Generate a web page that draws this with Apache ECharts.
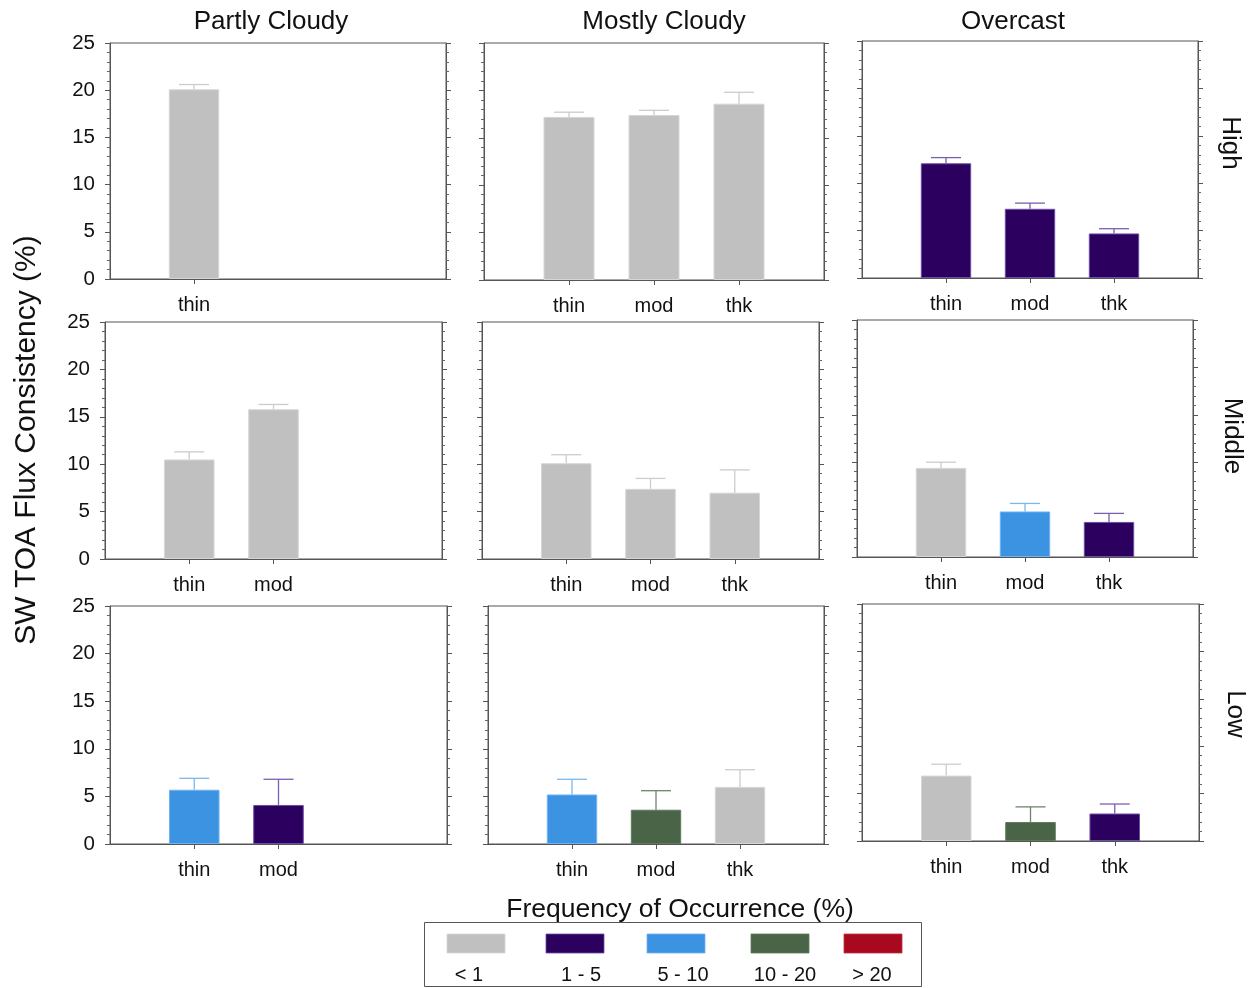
<!DOCTYPE html>
<html>
<head>
<meta charset="utf-8">
<script src="https://cdn.jsdelivr.net/npm/echarts@6/dist/echarts.min.js"></script>
<style>
html,body{margin:0;padding:0;background:#fff;}
#chart{width:1254px;height:988px;}
</style>
</head>
<body>
<div id="chart"></div>
<script>
// ---- data ----
const colNames = ['Partly Cloudy', 'Mostly Cloudy', 'Overcast'];
const rowNames = ['High', 'Middle', 'Low'];
const thicknessCats = ['thin', 'mod', 'thk'];
const yTicks = [0, 5, 10, 15, 20, 25];
const freqLabels = ['< 1', '1 - 5', '5 - 10', '10 - 20', '> 20'];
const freqColors = ['#c0c0c0', '#2c005e', '#3b93e2', '#4a6448', '#a8091f'];
const errColors = ['#cccccc', '#7a5fb0', '#7ab8f2', '#6a8767', '#cc4050'];
const edgeColors = ['#d6d6d6', '#6b4fa6', '#6fb2f5', '#5f7a5d', '#c0303f'];

// values per row: [PartlyCloudy, MostlyCloudy, Overcast] x [thin, mod, thk]
const highVals = [[20.1, null, null], [17.2, 17.4, 18.6], [12.1, 7.3, 4.7]];
const highErr  = [[0.5, null, null], [0.5, 0.5, 1.2], [0.6, 0.6, 0.5]];
const highFreq = [[0, null, null], [0, 0, 0], [1, 1, 1]];

const midVals = [[10.5, 15.8, null], [10.1, 7.4, 7.0], [9.4, 4.8, 3.7]];
const midErr  = [[0.8, 0.5, null], [0.9, 1.1, 2.4], [0.6, 0.85, 0.9]];
const midFreq = [[0, 0, null], [0, 0, 0], [0, 2, 1]];

const lowVals = [[5.7, 4.1, null], [5.2, 3.6, 6.0], [6.9, 2.0, 2.9]];
const lowErr  = [[1.2, 2.7, null], [1.6, 2.0, 1.8], [1.2, 1.6, 1.0]];
const lowFreq = [[2, 1, null], [2, 3, 0], [0, 3, 1]];

const allVals = [highVals, midVals, lowVals];
const allErr = [highErr, midErr, lowErr];
const allFreq = [highFreq, midFreq, lowFreq];

// ---- layout (pixel boxes of the 9 panels) ----
const panelBoxes = [
  [[110, 43, 336, 236], [484, 43, 340, 237], [862, 41, 336, 237]],
  [[105, 322, 337, 237], [482, 322, 337, 237], [857, 320, 336, 237]],
  [[110, 606, 337, 238], [488, 606, 336, 238], [862, 604, 337, 237]]
];

const FONT = 'Liberation Sans, Arial, sans-serif';
const cats = ['L', 'thin', 'mod', 'thk', 'R'];

const grids = [], xAxes = [], yAxes = [], series = [];
let k = 0;
for (let r = 0; r < 3; r++) {
  for (let c = 0; c < 3; c++) {
    const b = panelBoxes[r][c];
    const vals = allVals[r][c], errs = allErr[r][c], freq = allFreq[r][c];
    const present = [false, vals[0] != null, vals[1] != null, vals[2] != null, false];
    grids.push({left: b[0], top: b[1], width: b[2], height: b[3], show: true,
      borderColor: '#555', borderWidth: 1, backgroundColor: 'transparent', containLabel: false});
    xAxes.push({
      type: 'category', gridIndex: k, data: cats, boundaryGap: false,
      axisLine: {show: true, lineStyle: {color: '#555', width: 1}},
      axisTick: {show: true, inside: false, length: 5, lineStyle: {color: '#555'},
        interval: (i) => present[i]},
      axisLabel: {show: true, margin: 16, fontSize: 20, color: '#111', fontFamily: FONT,
        interval: (i) => present[i], formatter: (v) => v},
      splitLine: {show: false}
    });
    const yBase = {
      type: 'value', gridIndex: k, min: yTicks[0], max: yTicks[yTicks.length - 1], interval: 5,
      axisLine: {show: true, lineStyle: {color: '#555', width: 1}},
      axisTick: {show: true, inside: false, length: 5, lineStyle: {color: '#555'}},
      minorTick: {show: true, splitNumber: 5, length: 3, lineStyle: {color: '#666'}},
      splitLine: {show: false}
    };
    yAxes.push(Object.assign({}, yBase, {position: 'left',
      axisLabel: {show: c === 0, margin: 15, fontSize: 20.5, color: '#111', fontFamily: FONT}}));
    yAxes.push(Object.assign({}, yBase, {position: 'right', axisLabel: {show: false}}));

    const barData = [null, null, null, null, null];
    const errData = [];
    for (let j = 0; j < 3; j++) {
      if (vals[j] == null) continue;
      barData[j + 1] = {value: vals[j], itemStyle: {color: freqColors[freq[j]],
        borderColor: edgeColors[freq[j]], borderWidth: 1}};
      errData.push([j + 1, vals[j], errs[j], freq[j]]);
    }
    series.push({
      type: 'bar', xAxisIndex: k, yAxisIndex: 2 * k, data: barData,
      barWidth: '60%', silent: true, animation: false
    });
    series.push({
      type: 'custom', xAxisIndex: k, yAxisIndex: 2 * k, data: errData, silent: true, animation: false,
      z: 3,
      renderItem: function (params, api) {
        const x = api.value(0), v = api.value(1), e = api.value(2), f = api.value(3);
        const p0 = api.coord([x, v]);
        const p1 = api.coord([x, v + e]);
        const col = errColors[f];
        const half = 15;
        return {type: 'group', children: [
          {type: 'line', shape: {x1: p0[0], y1: p0[1], x2: p1[0], y2: p1[1]},
            style: {stroke: col, lineWidth: 1.3}},
          {type: 'line', shape: {x1: p1[0] - half, y1: p1[1], x2: p1[0] + half, y2: p1[1]},
            style: {stroke: col, lineWidth: 1.3}}
        ]};
      }
    });
    k++;
  }
}

// ---- text / legend graphics ----
const graphics = [];
const colTitlePos = [[271, 22], [664, 22], [1013, 22]];
colNames.forEach((n, i) => graphics.push({type: 'text', x: colTitlePos[i][0], y: colTitlePos[i][1],
  style: {text: n, fontSize: 26, fontFamily: FONT, fill: '#111', textAlign: 'center', textVerticalAlign: 'middle'}}));
const rowTitlePos = [[1230, 143], [1232, 436], [1235, 714]];
rowNames.forEach((n, i) => graphics.push({type: 'text', x: rowTitlePos[i][0], y: rowTitlePos[i][1],
  rotation: -Math.PI / 2,
  style: {text: n, fontSize: 26, fontFamily: FONT, fill: '#111', textAlign: 'center', textVerticalAlign: 'middle'}}));
graphics.push({type: 'text', x: 27, y: 440, rotation: Math.PI / 2,
  style: {text: 'SW TOA Flux Consistency (%)', fontSize: 30, fontFamily: FONT, fill: '#111',
    textAlign: 'center', textVerticalAlign: 'middle'}});
graphics.push({type: 'text', x: 680, y: 910,
  style: {text: 'Frequency of Occurrence (%)', fontSize: 26.5, fontFamily: FONT, fill: '#111',
    textAlign: 'center', textVerticalAlign: 'middle'}});
graphics.push({type: 'rect', shape: {x: 424.5, y: 922.5, width: 497, height: 64},
  style: {fill: 'none', stroke: '#555', lineWidth: 1}});
const swatchX = [447, 546, 647, 751, 844];
const labelX = [469, 581, 683, 785, 872];
freqLabels.forEach((l, i) => {
  graphics.push({type: 'rect', shape: {x: swatchX[i], y: 934, width: 58, height: 19},
    style: {fill: freqColors[i], stroke: edgeColors[i], lineWidth: 0.8}});
  graphics.push({type: 'text', x: labelX[i], y: 975,
    style: {text: l, fontSize: 20, fontFamily: FONT, fill: '#111', textAlign: 'center', textVerticalAlign: 'middle'}});
});

const chart = echarts.init(document.getElementById('chart'), null, {renderer: 'canvas'});
chart.setOption({
  animation: false,
  backgroundColor: '#fff',
  grid: grids, xAxis: xAxes, yAxis: yAxes, series: series,
  graphic: graphics
});
</script>
</body>
</html>
